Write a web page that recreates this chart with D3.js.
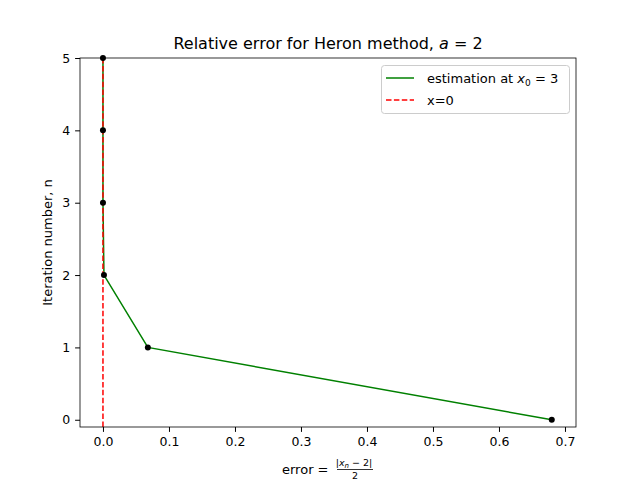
<!DOCTYPE html>
<html><head><meta charset="utf-8">
<script src="https://cdn.jsdelivr.net/npm/d3@7"></script>
<style>body{margin:0;background:#fff}text{font-family:"DejaVu Sans",sans-serif}</style>
</head><body><svg id="c" width="640" height="480"></svg>
<script>
const iterations = [0, 1, 2, 3, 4, 5];
const errors = [0.68, 0.068, 0.0015, 0.0000008, 0.0, 0.0];
const xTicks = [0.0, 0.1, 0.2, 0.3, 0.4, 0.5, 0.6, 0.7];
const yTicks = [0, 1, 2, 3, 4, 5];

const svg = d3.select("#c");
const L = 80, R = 576, T = 58, B = 427;
const x = d3.scaleLinear().domain([-0.0348, 0.7167]).range([L, R]);
const y = d3.scaleLinear().domain([-0.1, 5]).range([B, T]);

const gx = svg.append("g").attr("transform", `translate(0,${B})`)
  .call(d3.axisBottom(x).tickValues(xTicks).tickFormat(d3.format(".1f")).tickSizeOuter(0).tickSize(4.9).tickPadding(4.9));
const gy = svg.append("g").attr("transform", `translate(${L},0)`)
  .call(d3.axisLeft(y).tickValues(yTicks).tickFormat(d3.format("d")).tickSizeOuter(0).tickSize(4.9).tickPadding(4.9));
[gx, gy].forEach(g => { g.select(".domain").remove(); g.selectAll("text").attr("font-size", 13.9).attr("fill", "#000"); g.selectAll("line").attr("stroke", "#000"); });
gx.selectAll("text").attr("font-size", 12.5);
gy.selectAll("text").attr("font-size", 12.5);

const pts = iterations.map((n, i) => [errors[i], n]);
svg.append("path").datum(pts).attr("fill", "none").attr("stroke", "green").attr("stroke-width", 1.5)
  .attr("d", d3.line().x(d => x(d[0])).y(d => y(d[1])));
svg.append("line").attr("x1", x(0)).attr("x2", x(0)).attr("y1", T).attr("y2", B)
  .attr("stroke", "red").attr("stroke-width", 1.5).attr("stroke-dasharray", "5.5,2.4");
svg.selectAll("circle").data(pts).join("circle").attr("cx", d => x(d[0])).attr("cy", d => y(d[1])).attr("r", 3).attr("fill", "black");

svg.append("rect").attr("x", L).attr("y", T).attr("width", R - L).attr("height", B - T).attr("fill", "none").attr("stroke", "#000").attr("stroke-width", 0.8);

svg.append("text").attr("x", (L + R) / 2).attr("y", 49).attr("text-anchor", "middle").attr("font-size", 16)
  .html('Relative error for Heron method, <tspan font-style="italic">a</tspan> = 2');
svg.append("text").attr("transform", `translate(52,${(T + B) / 2}) rotate(-90)`).attr("text-anchor", "middle").attr("font-size", 13).text("Iteration number, n");

// xlabel
const xl = svg.append("g").attr("font-size", 13);
xl.append("text").attr("x", 282).attr("y", 474).text("error =");
xl.append("text").attr("x", 354).attr("y", 466).attr("font-size", 9.5).attr("text-anchor", "middle")
  .html('|<tspan font-style="italic">x</tspan><tspan font-size="7" dy="2" font-style="italic">n</tspan><tspan dy="-2"> − 2|</tspan>');
xl.append("line").attr("x1", 337).attr("x2", 373).attr("y1", 469.5).attr("y2", 469.5).attr("stroke", "#000").attr("stroke-width", 0.8);
xl.append("text").attr("x", 355).attr("y", 479).attr("font-size", 9.5).attr("text-anchor", "middle").text("2");

// legend
const lg = svg.append("g");
lg.append("rect").attr("x", 381.5).attr("y", 65.5).attr("width", 188).attr("height", 48).attr("rx", 3)
  .attr("fill", "#fff").attr("stroke", "#ccc");
lg.append("line").attr("x1", 386).attr("x2", 414).attr("y1", 78).attr("y2", 78).attr("stroke", "green").attr("stroke-width", 1.5);
lg.append("line").attr("x1", 386).attr("x2", 414).attr("y1", 100).attr("y2", 100).attr("stroke", "red").attr("stroke-width", 1.5).attr("stroke-dasharray", "5.5,2.4");
lg.append("text").attr("x", 427).attr("y", 83).attr("font-size", 13)
  .html('estimation at <tspan font-style="italic">x</tspan><tspan font-size="9" dy="3">0</tspan><tspan dy="-3"> = 3</tspan>');
lg.append("text").attr("x", 427).attr("y", 105).attr("font-size", 13).text("x=0");
</script></body></html>
